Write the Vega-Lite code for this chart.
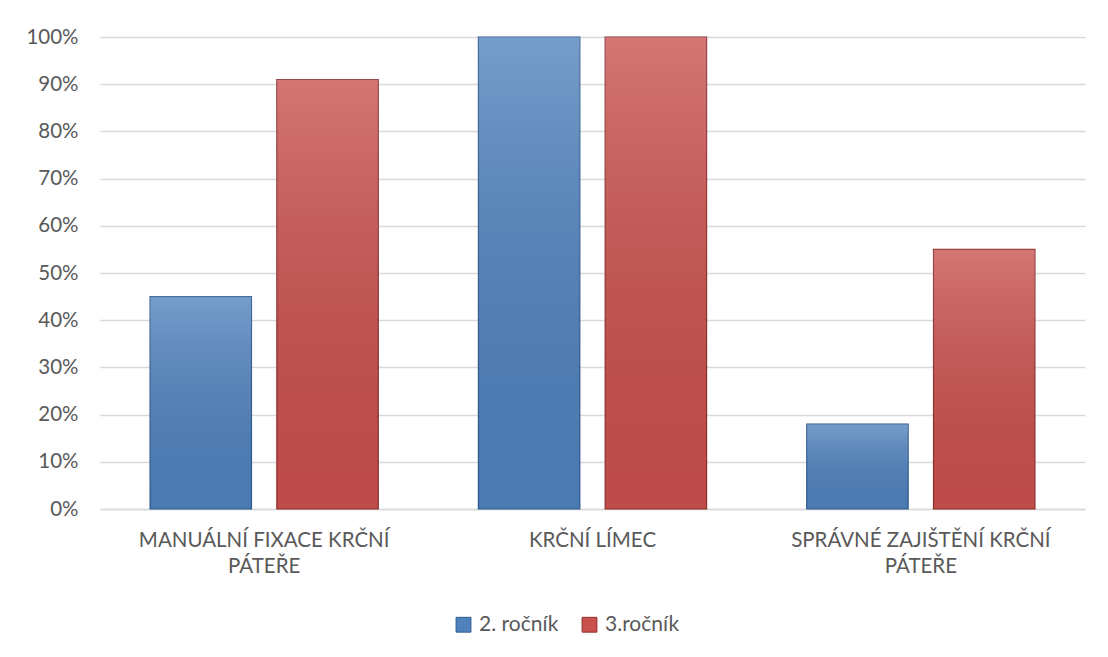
{
  "$schema": "https://vega.github.io/schema/vega-lite/v6.json",
  "autosize": {"type": "none"},
  "width": 985,
  "height": 472,
  "padding": {"left": 100, "top": 37, "right": 23, "bottom": 148},
  "background": "#ffffff",
  "config": {
    "font": "Lato",
    "view": {"stroke": null},
    "axis": {
      "labelFont": "Lato",
      "labelColor": "#595959",
      "labelFontSize": 20.5,
      "labelLimit": 0,
      "ticks": false,
      "title": null,
      "gridColor": "#d9d9d9",
      "gridWidth": 1.3,
      "domainColor": "#d9d9d9",
      "domainWidth": 1.3
    },
    "legend": {
      "labelFont": "Lato",
      "labelColor": "#595959",
      "labelFontSize": 21
    }
  },
  "data": {
    "values": [
      {"kategorie": "MANUÁLNÍ FIXACE KRČNÍ PÁTEŘE", "rocnik": "2. ročník", "podil": 0.45},
      {"kategorie": "MANUÁLNÍ FIXACE KRČNÍ PÁTEŘE", "rocnik": "3.ročník", "podil": 0.91},
      {"kategorie": "KRČNÍ LÍMEC", "rocnik": "2. ročník", "podil": 1.0},
      {"kategorie": "KRČNÍ LÍMEC", "rocnik": "3.ročník", "podil": 1.0},
      {"kategorie": "SPRÁVNÉ ZAJIŠTĚNÍ KRČNÍ PÁTEŘE", "rocnik": "2. ročník", "podil": 0.18},
      {"kategorie": "SPRÁVNÉ ZAJIŠTĚNÍ KRČNÍ PÁTEŘE", "rocnik": "3.ročník", "podil": 0.55}
    ]
  },
  "encoding": {
    "x": {
      "field": "kategorie",
      "type": "nominal",
      "sort": null,
      "scale": {"paddingInner": 0.305, "paddingOuter": 0.1525},
      "axis": {
        "labelAngle": 0,
        "labelPadding": 21,
        "labelLineHeight": 26,
        "labelExpr": "indexof(datum.value, ' PÁTEŘE') > 0 ? [replace(datum.value, ' PÁTEŘE', ''), 'PÁTEŘE'] : datum.value"
      }
    },
    "xOffset": {
      "field": "rocnik",
      "type": "nominal",
      "scale": {"paddingInner": 0.2, "paddingOuter": 0}
    },
    "y": {
      "field": "podil",
      "type": "quantitative",
      "scale": {"domain": [0, 1], "nice": false},
      "axis": {
        "format": "~%",
        "values": [0, 0.1, 0.2, 0.3, 0.4, 0.5, 0.6, 0.7, 0.8, 0.9, 1.0],
        "domain": false,
        "labelPadding": 22
      }
    }
  },
  "layer": [
    {
      "mark": {"type": "bar", "strokeWidth": 1.2},
      "encoding": {
        "color": {
          "field": "rocnik",
          "type": "nominal",
          "scale": {"domain": ["2. ročník", "3.ročník"], "range": ["#4f81bd", "#c9504d"]},
          "legend": {
            "title": null,
            "orient": "none",
            "direction": "horizontal",
            "legendX": 353,
            "legendY": 577,
            "symbolType": "square",
            "symbolSize": 220,
            "symbolStrokeWidth": 1,
            "columnPadding": 20,
            "labelOffset": 5
          }
        },
        "stroke": {
          "field": "rocnik",
          "type": "nominal",
          "scale": {"domain": ["2. ročník", "3.ročník"], "range": ["#2f5a8f", "#8e2f2d"]},
          "legend": null
        }
      }
    },
    {
      "mark": {
        "type": "bar",
        "color": {
          "gradient": "linear",
          "x1": 0, "y1": 0, "x2": 0, "y2": 1,
          "stops": [
            {"offset": 0, "color": "rgba(255,255,255,0.22)"},
            {"offset": 1, "color": "rgba(0,0,0,0.05)"}
          ]
        }
      }
    }
  ]
}
